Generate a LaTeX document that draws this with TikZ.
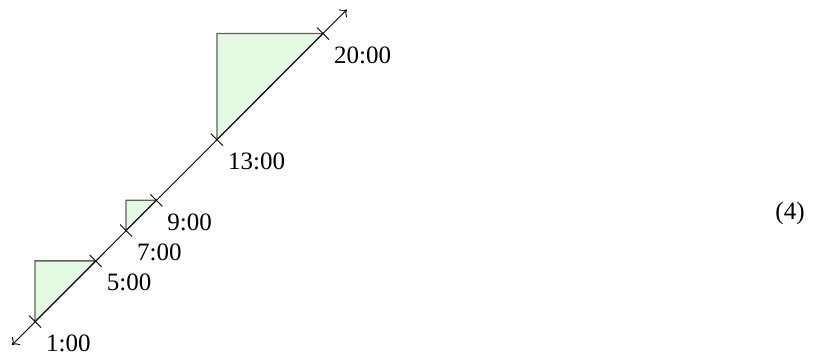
\documentclass[tikz,border=0pt]{standalone}
\usepackage{fontspec}
\setmainfont{Liberation Serif}
\usetikzlibrary{arrows.meta}
\definecolor{trifill}{RGB}{229,250,227}
\definecolor{triedge}{RGB}{95,95,95}
\begin{document}
\begin{tikzpicture}[x=1pt,y=-1pt,
  axisline/.style={line width=0.9pt,{Computer Modern Rightarrow[length=6pt,width=11pt]}-{Computer Modern Rightarrow[length=6pt,width=11pt]}},
  tickmark/.style={line width=0.9pt},
  lbl/.style={anchor=north west,inner sep=0pt,font=\fontsize{25}{30}\selectfont},
  trishape/.style={fill=trifill,draw=triedge,line width=1.3pt,line join=miter}]
\useasboundingbox (0,0) rectangle (820,353);
\foreach \n/\h in {a/1,b/5,c/7,d/9,e/13,f/20}{
  \coordinate (\n) at ({35+(\h-1)*15.16},{321.5-(\h-1)*15.16});
}
\coordinate (s) at (12,345);
\coordinate (t) at (347,9.5);
% triangles
\foreach \p/\q in {a/b,c/d,e/f}{
  \draw[trishape] (\p) -- (\p |- \q) -- (\q) -- cycle;
}
% axis
\draw[axisline] (s) -- (t);
% ticks and labels
\foreach \n/\lab in {a/1:00,b/5:00,c/7:00,d/9:00,e/13:00,f/20:00}{
  \draw[tickmark] ([shift={(-6,-6)}]\n) -- ([shift={(6,6)}]\n);
  \node[lbl] (L\n) at ([shift={(11,13)}]\n) {\lab};
}
\node[font=\fontsize{25}{30}\selectfont,inner sep=0pt] (eq) at (790,213) {(4)};
\end{tikzpicture}
\end{document}
